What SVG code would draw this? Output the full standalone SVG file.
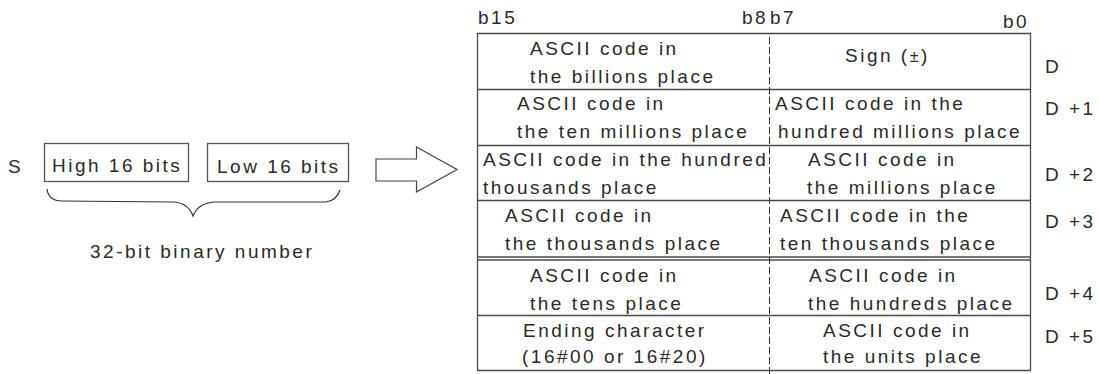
<svg xmlns="http://www.w3.org/2000/svg" width="1099" height="374" viewBox="0 0 1099 374">
<style>
text{font-family:"Liberation Sans",Arial,sans-serif;font-size:19px;letter-spacing:2.5px;fill:#2a2a2a}
.sm{font-size:16px}
.box{fill:none;stroke:#555;stroke-width:1.3}
.grid{fill:none;stroke:#4a4a4a;stroke-width:1.3}
.dash{fill:none;stroke:#333;stroke-width:1;stroke-dasharray:7 3}
.brace{fill:none;stroke:#333;stroke-width:1.2}
.arrow{fill:#fff;stroke:#444;stroke-width:1.2}
</style>
<rect width="1099" height="374" fill="#fff"/>
<g id="source">
<text x="8" y="173">S</text>
<g id="high16">
<rect class="box" x="44.5" y="143.5" width="144" height="38"/>
<text x="52" y="172">High 16 bits</text>
</g>
<g id="low16">
<rect class="box" x="207.5" y="143.5" width="141" height="38"/>
<text x="217" y="173">Low 16 bits</text>
</g>
<g id="brace">
<path class="brace" d="M47,189 C48,197 53,201 62,201 L172,202 C183,202 190,208 193,216 C196,208 203,203 214,202 L326,202 C334,201 338,196 340,190"/>
<text x="90" y="258">32-bit binary number</text>
</g>
</g>
<g id="connectors">
<polygon class="arrow" points="376,159 416.5,159 416.5,147 457,169.5 416.5,192 416.5,181 376,181"/>
</g>
<g id="table">
<text x="478" y="24">b15</text>
<text x="742" y="24">b8</text>
<text x="770" y="24">b7</text>
<text x="1003" y="28">b0</text>
<path class="grid" d="M477.5,33.5 H1030.5 V370.5 H477.5 Z M477.5,89.5 H1030.5 M477.5,145.5 H1030.5 M477.5,200.5 H1030.5 M477.5,257 H1030.5 M477.5,260 H1030.5 M477.5,315.5 H1030.5"/>
<line class="dash" x1="769.5" y1="37" x2="769.5" y2="374"/>
<g id="row-D">
<text x="530" y="55">ASCII code in</text>
<text x="530" y="83">the billions place</text>
<text x="845" y="62">Sign (<tspan class="sm">±</tspan>)</text>
<text x="1045" y="73">D</text>
</g>
<g id="row-D1">
<text x="517" y="110">ASCII code in</text>
<text x="517" y="138">the ten millions place</text>
<text x="775" y="110">ASCII code in the</text>
<text x="778" y="138">hundred millions place</text>
<text x="1045" y="115">D +1</text>
</g>
<g id="row-D2">
<text x="483" y="166">ASCII code in the hundred</text>
<text x="483" y="194">thousands place</text>
<text x="808" y="166">ASCII code in</text>
<text x="807" y="194">the millions place</text>
<text x="1045" y="181">D +2</text>
</g>
<g id="row-D3">
<text x="505" y="222">ASCII code in</text>
<text x="505" y="250">the thousands place</text>
<text x="780" y="222">ASCII code in the</text>
<text x="780" y="250">ten thousands place</text>
<text x="1045" y="228">D +3</text>
</g>
<g id="row-D4">
<text x="530" y="282">ASCII code in</text>
<text x="530" y="310">the tens place</text>
<text x="809" y="282">ASCII code in</text>
<text x="808" y="310">the hundreds place</text>
<text x="1045" y="300">D +4</text>
</g>
<g id="row-D5">
<text x="523" y="337">Ending character</text>
<text x="522" y="363">(16#00 or 16#20)</text>
<text x="823" y="337">ASCII code in</text>
<text x="823" y="363">the units place</text>
<text x="1045" y="343">D +5</text>
</g>
</g>
</svg>
